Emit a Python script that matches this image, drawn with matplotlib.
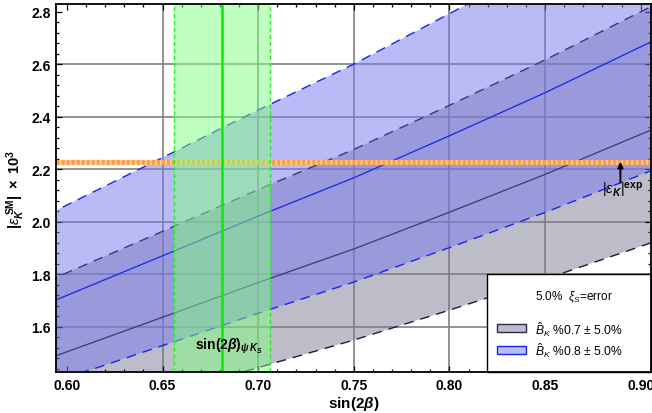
import numpy as np
import matplotlib
matplotlib.use("Agg")
import matplotlib.pyplot as plt
from matplotlib.patches import Rectangle

plt.rcParams['font.family'] = ['Liberation Sans', 'DejaVu Sans']
plt.rcParams['mathtext.fontset'] = 'custom'
plt.rcParams['mathtext.rm'] = 'Liberation Sans'
plt.rcParams['mathtext.it'] = 'Liberation Sans:italic'
plt.rcParams['mathtext.bf'] = 'Liberation Sans:bold'
plt.rcParams['mathtext.bfit'] = 'Liberation Sans:bold:italic'

# ---- data ----
x_pts = [0.59, 0.65, 0.70, 0.75, 0.80, 0.85, 0.91]
grey_c = [1.478, 1.636, 1.768, 1.896, 2.036, 2.180, 2.363]
grey_hi = [1.774, 1.963, 2.122, 2.275, 2.443, 2.616, 2.836]
grey_lo = [1.208, 1.337, 1.444, 1.549, 1.663, 1.781, 1.931]
blue_c = [1.689, 1.870, 2.021, 2.167, 2.327, 2.491, 2.701]
blue_hi = [2.027, 2.244, 2.425, 2.600, 2.792, 2.989, 3.241]
blue_lo = [1.380, 1.528, 1.651, 1.770, 1.901, 2.035, 2.207]

eps_exp = 2.228
sin2b_c = 0.681
sin2b_err = 0.025

x_grid = [0.65, 0.70, 0.75, 0.80, 0.85]
y_grid = [1.6, 1.8, 2.0, 2.2, 2.4, 2.6]
x_ticks = [0.60, 0.65, 0.70, 0.75, 0.80, 0.85, 0.90]
y_ticks = [1.6, 1.8, 2.0, 2.2, 2.4, 2.6, 2.8]

legend_title = r'5.0%  $\xi_S$=error'
legend_labels = [r'$\hat{B}_K$ %0.7 $\pm$ 5.0%', r'$\hat{B}_K$ %0.8 $\pm$ 5.0%']

# ---- figure ----
fig = plt.figure(figsize=(6.52, 4.14), dpi=100)
ax = fig.add_axes([56/652, 1-373/414, 595/652, 368/414])
ax.set_xlim(0.5943, 0.9054)
ax.set_ylim(1.4274, 2.829)

for gx in x_grid:
    ax.axvline(gx, color='#808080', lw=1.2, zorder=0)
for gy in y_grid:
    ax.axhline(gy, color='#808080', lw=1.2, zorder=0)

dark = '#3a3a6c'
blue = '#1428e6'
ax.fill_between(x_pts, grey_lo, grey_hi, color=(125/255, 125/255, 150/255), alpha=0.5, lw=0, zorder=1)
ax.fill_between(x_pts, blue_lo, blue_hi, color=(119/255, 119/255, 238/255), alpha=0.5, lw=0, zorder=2)

ax.plot(x_pts, grey_c, color=dark, lw=0.9, zorder=3)
ax.plot(x_pts, grey_hi, color=dark, lw=1.0, dashes=(7, 5), zorder=3)
ax.plot(x_pts, grey_lo, color='#1a1a40', lw=1.0, dashes=(7, 5), zorder=3)
ax.plot(x_pts, blue_c, color=blue, lw=0.9, zorder=3)
ax.plot(x_pts, blue_hi, color=blue, lw=1.0, dashes=(7, 5), zorder=3)
ax.plot(x_pts, blue_lo, color=blue, lw=1.0, dashes=(7, 5), zorder=3)

# experimental epsilon_K line
ax.axhline(eps_exp, color='#ffcc99', lw=3.4, zorder=4)
ax.axhline(eps_exp, color='#ff9f45', lw=3.8, dashes=(0.6, 0.35), zorder=4)

# sin(2beta) band
ax.axvspan(sin2b_c - sin2b_err, sin2b_c + sin2b_err, color=(128/255, 1, 128/255), alpha=0.5, lw=0, zorder=5)
ax.axvline(sin2b_c - sin2b_err, color='#22ee22', lw=1.0, dashes=(3, 2), zorder=6)
ax.axvline(sin2b_c + sin2b_err, color='#22ee22', lw=1.0, dashes=(3, 2), zorder=6)
ax.axvline(sin2b_c, color='#00f000', lw=1.8, zorder=6)

ax.text(0.6849, 1.528, r'$\mathbf{sin(2}\mathbfit{\beta}\mathbf{)}_{\mathbfit{\psi\,K_S}}$',
        ha='center', va='center', fontsize=10, zorder=7)

# arrow and label
ax.annotate('', xy=(0.8894, eps_exp), xytext=(0.8894, 2.149),
            arrowprops=dict(arrowstyle='-|>', color='black', lw=1.4, mutation_scale=8,
                            shrinkA=0, shrinkB=0), zorder=8)
ax.text(0.8905, 2.124, r'$|\epsilon_{\mathbfit{K}}|^{\mathbf{exp}}$', ha='center', va='center',
        fontsize=10.5, zorder=8)

# ticks / frame
ax.set_xticks(x_ticks)
ax.set_yticks(y_ticks)
ax.set_xticklabels([f'{v:.2f}' for v in x_ticks])
ax.set_yticklabels([f'{v:.1f}' for v in y_ticks])
ax.set_xticks(np.arange(0.60, 0.906, 0.01), minor=True)
ax.set_yticks(np.arange(1.44, 2.83, 0.04), minor=True)
ax.tick_params(which='both', direction='in', top=True, right=True, width=0.9)
ax.tick_params(which='major', length=4, labelsize=10, pad=4)
ax.tick_params(which='minor', length=2.2)
for lab in ax.get_xticklabels() + ax.get_yticklabels():
    lab.set_fontweight('bold')
for sp in ax.spines.values():
    sp.set_linewidth(1.3)
    sp.set_zorder(20)

ax.set_xlabel(r'$\mathbf{sin(2}\mathbfit{\beta}\mathbf{)}$', fontsize=11, labelpad=2)
ax.set_ylabel(r'$\mathbf{|}\epsilon_{\mathbfit{K}}^{\ \mathbf{SM}}\mathbf{|\ \times\ 10^{3}}$',
              fontsize=10.5, labelpad=3)

# legend box
lx0 = (487.3 - 56) / 595
lh = (373 - 275.3) / 368
ax.add_patch(Rectangle((lx0, 0), 1 - lx0, lh, transform=ax.transAxes, facecolor='white',
                       edgecolor='black', lw=1.0, zorder=15, clip_on=False))
ax.text(0.870, 0.2057, legend_title, transform=ax.transAxes, ha='center', va='center',
        fontsize=8.5, zorder=16)
sw_x0 = (496.7 - 56) / 595
sw_w = (526 - 496.7) / 595
sw_h = 8 / 368
sw_cols = [((190/255, 190/255, 202/255), '#2a2a50'), ((187/255, 187/255, 246/255), '#1428e6')]
sw_y = [0.1188, 0.0606]
for (fc, ec), yy, lab in zip(sw_cols, sw_y, legend_labels):
    ax.add_patch(Rectangle((sw_x0, yy - sw_h/2), sw_w, sw_h, transform=ax.transAxes,
                           facecolor=fc, edgecolor=ec, lw=1.0, zorder=16))
    ax.text(0.805, yy, lab, transform=ax.transAxes, ha='left', va='center', fontsize=8.7, zorder=16)

fig.savefig('out.png', dpi=100)
